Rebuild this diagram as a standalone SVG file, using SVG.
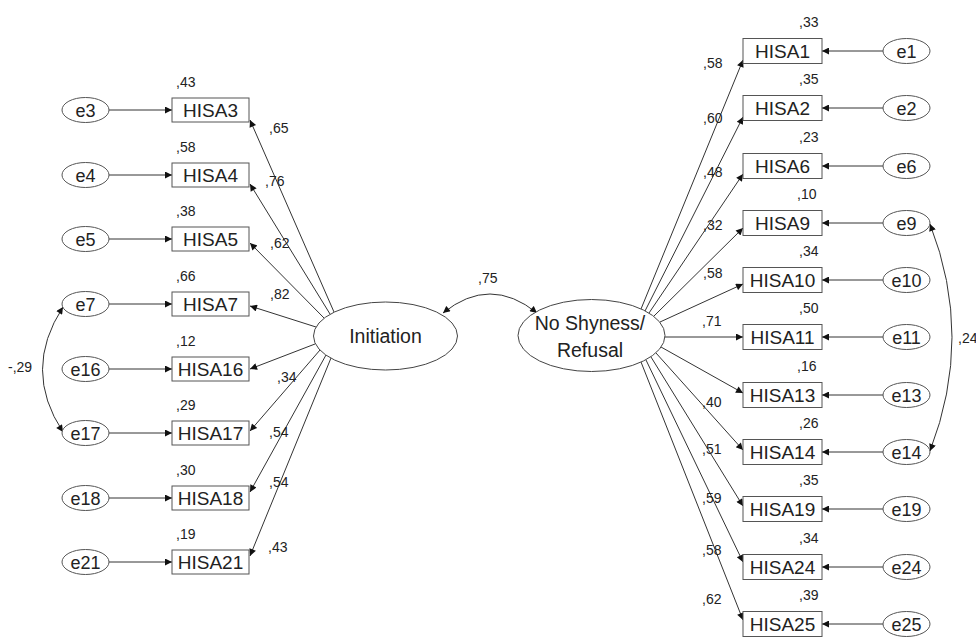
<svg xmlns="http://www.w3.org/2000/svg" width="976" height="637" viewBox="0 0 976 637">
<defs>
<marker id="ah" viewBox="0 0 10 10" refX="10" refY="5" markerWidth="9" markerHeight="7" markerUnits="userSpaceOnUse" orient="auto-start-reverse"><path d="M0,0 L10,5 L0,10 z" fill="#111"/></marker>
</defs>
<style>
.bg{fill:#fff}
rect.box{fill:#fff;stroke:#555;stroke-width:1}
ellipse.err{fill:#fff;stroke:#555;stroke-width:1}
ellipse.lat{fill:#fff;stroke:#444;stroke-width:1}
text{font-family:"Liberation Sans",Arial,sans-serif;fill:#222}
.bt{font-size:19px;text-anchor:middle}
.et{font-size:18px;text-anchor:middle}
.lt{font-size:19.5px;text-anchor:middle}
.n{font-size:14px}
#connectors line,#connectors path{stroke:#333;stroke-width:1;fill:none}
.a{marker-end:url(#ah)}
.d{marker-start:url(#ah);marker-end:url(#ah)}
</style>
<rect class="bg" x="0" y="0" width="976" height="637"/>

<g id="connectors">
<!-- error to indicator, left -->
<line class="a" x1="109" y1="110" x2="172" y2="110"/>
<line class="a" x1="109" y1="175" x2="172" y2="175"/>
<line class="a" x1="109" y1="239" x2="172" y2="239"/>
<line class="a" x1="109" y1="304" x2="172" y2="304"/>
<line class="a" x1="109" y1="369" x2="172" y2="369"/>
<line class="a" x1="109" y1="433" x2="172" y2="433"/>
<line class="a" x1="109" y1="498" x2="172" y2="498"/>
<line class="a" x1="109" y1="562" x2="172" y2="562"/>
<!-- loadings left -->
<line class="a" x1="334" y1="312" x2="250" y2="120"/>
<line class="a" x1="330" y1="314" x2="250" y2="184"/>
<line class="a" x1="324" y1="318" x2="250" y2="243"/>
<line class="a" x1="316" y1="327" x2="250" y2="306"/>
<line class="a" x1="315" y1="344" x2="250" y2="369"/>
<line class="a" x1="320" y1="350" x2="250" y2="431"/>
<line class="a" x1="326" y1="355" x2="250" y2="492"/>
<line class="a" x1="331" y1="358" x2="250" y2="556"/>
<!-- loadings right -->
<line class="a" x1="641" y1="309" x2="743" y2="60"/>
<line class="a" x1="645" y1="311" x2="743" y2="117"/>
<line class="a" x1="649" y1="313" x2="743" y2="174"/>
<line class="a" x1="654" y1="316" x2="743" y2="228"/>
<line class="a" x1="660" y1="322" x2="743" y2="284"/>
<line class="a" x1="665" y1="337" x2="743" y2="337"/>
<line class="a" x1="661" y1="347" x2="743" y2="393"/>
<line class="a" x1="656" y1="353" x2="743" y2="450"/>
<line class="a" x1="651" y1="357" x2="743" y2="506"/>
<line class="a" x1="646" y1="360" x2="743" y2="562"/>
<line class="a" x1="641" y1="362" x2="743" y2="620"/>
<!-- error to indicator, right -->
<line class="a" x1="883" y1="51" x2="822" y2="51"/>
<line class="a" x1="883" y1="108" x2="822" y2="108"/>
<line class="a" x1="883" y1="166" x2="822" y2="166"/>
<line class="a" x1="883" y1="223" x2="822" y2="223"/>
<line class="a" x1="883" y1="280" x2="822" y2="280"/>
<line class="a" x1="883" y1="337" x2="822" y2="337"/>
<line class="a" x1="883" y1="395" x2="822" y2="395"/>
<line class="a" x1="883" y1="452" x2="822" y2="452"/>
<line class="a" x1="883" y1="509" x2="822" y2="509"/>
<line class="a" x1="883" y1="567" x2="822" y2="567"/>
<line class="a" x1="883" y1="624" x2="822" y2="624"/>
<!-- covariances -->
<path class="d" d="M443,313 Q490,275 537,313"/>
<path class="d" d="M63,307 Q22,370 63,432"/>
<path class="d" d="M930,224 Q974,337 930,451"/>
<!-- coefficient labels -->
<text class="n" x="478" y="283">,75</text>
<text class="n" x="8" y="372">-,29</text>
<text class="n" x="958" y="343">,24</text>
<text class="n" x="269" y="133">,65</text>
<text class="n" x="265" y="186">,76</text>
<text class="n" x="270" y="248">,62</text>
<text class="n" x="270" y="299">,82</text>
<text class="n" x="277" y="382">,34</text>
<text class="n" x="269" y="437">,54</text>
<text class="n" x="269" y="487">,54</text>
<text class="n" x="268" y="552">,43</text>
<text class="n" x="703" y="68">,58</text>
<text class="n" x="703" y="123">,60</text>
<text class="n" x="703" y="177">,48</text>
<text class="n" x="703" y="230">,32</text>
<text class="n" x="703" y="278">,58</text>
<text class="n" x="702" y="326">,71</text>
<text class="n" x="702" y="407">,40</text>
<text class="n" x="702" y="454">,51</text>
<text class="n" x="702" y="503">,59</text>
<text class="n" x="702" y="555">,58</text>
<text class="n" x="702" y="604">,62</text>
</g>

<g id="Initiation"><ellipse class="lat" cx="385.5" cy="336" rx="72" ry="34"/><text class="lt" x="385.5" y="343">Initiation</text></g>
<g id="NoShyness"><ellipse class="lat" cx="591.5" cy="335.5" rx="73.5" ry="36"/><text class="lt" x="590" y="330">No Shyness/</text><text class="lt" x="590" y="357">Refusal</text></g>

<g id="HISA3"><rect class="box" x="172" y="98" width="77" height="24"/><text class="bt" x="210.5" y="117">HISA3</text><text class="n" x="176" y="87">,43</text></g>
<g id="HISA4"><rect class="box" x="172" y="163" width="77" height="24"/><text class="bt" x="210.5" y="182">HISA4</text><text class="n" x="176" y="152">,58</text></g>
<g id="HISA5"><rect class="box" x="172" y="227" width="77" height="24"/><text class="bt" x="210.5" y="246">HISA5</text><text class="n" x="176" y="216">,38</text></g>
<g id="HISA7"><rect class="box" x="172" y="292" width="77" height="24"/><text class="bt" x="210.5" y="311">HISA7</text><text class="n" x="176" y="281">,66</text></g>
<g id="HISA16"><rect class="box" x="172" y="357" width="77" height="24"/><text class="bt" x="210.5" y="376">HISA16</text><text class="n" x="176" y="346">,12</text></g>
<g id="HISA17"><rect class="box" x="172" y="421" width="77" height="24"/><text class="bt" x="210.5" y="440">HISA17</text><text class="n" x="176" y="410">,29</text></g>
<g id="HISA18"><rect class="box" x="172" y="486" width="77" height="24"/><text class="bt" x="210.5" y="505">HISA18</text><text class="n" x="176" y="475">,30</text></g>
<g id="HISA21"><rect class="box" x="172" y="550" width="77" height="24"/><text class="bt" x="210.5" y="569">HISA21</text><text class="n" x="176" y="539">,19</text></g>

<g id="e3"><ellipse class="err" cx="85.5" cy="110" rx="23.5" ry="12.5"/><text class="et" x="85.5" y="116.5">e3</text></g>
<g id="e4"><ellipse class="err" cx="85.5" cy="175" rx="23.5" ry="12.5"/><text class="et" x="85.5" y="181.5">e4</text></g>
<g id="e5"><ellipse class="err" cx="85.5" cy="239" rx="23.5" ry="12.5"/><text class="et" x="85.5" y="245.5">e5</text></g>
<g id="e7"><ellipse class="err" cx="85.5" cy="304" rx="23.5" ry="12.5"/><text class="et" x="85.5" y="310.5">e7</text></g>
<g id="e16"><ellipse class="err" cx="85.5" cy="369" rx="23.5" ry="12.5"/><text class="et" x="85.5" y="375.5">e16</text></g>
<g id="e17"><ellipse class="err" cx="85.5" cy="433" rx="23.5" ry="12.5"/><text class="et" x="85.5" y="439.5">e17</text></g>
<g id="e18"><ellipse class="err" cx="85.5" cy="498" rx="23.5" ry="12.5"/><text class="et" x="85.5" y="504.5">e18</text></g>
<g id="e21"><ellipse class="err" cx="85.5" cy="562" rx="23.5" ry="12.5"/><text class="et" x="85.5" y="568.5">e21</text></g>

<g id="HISA1"><rect class="box" x="743" y="38.5" width="79" height="25"/><text class="bt" x="782.5" y="58">HISA1</text><text class="n" x="799" y="27">,33</text></g>
<g id="HISA2"><rect class="box" x="743" y="95.5" width="79" height="25"/><text class="bt" x="782.5" y="115">HISA2</text><text class="n" x="799" y="84">,35</text></g>
<g id="HISA6"><rect class="box" x="743" y="153.5" width="79" height="25"/><text class="bt" x="782.5" y="173">HISA6</text><text class="n" x="799" y="142">,23</text></g>
<g id="HISA9"><rect class="box" x="743" y="210.5" width="79" height="25"/><text class="bt" x="782.5" y="230">HISA9</text><text class="n" x="797" y="199">,10</text></g>
<g id="HISA10"><rect class="box" x="743" y="267.5" width="79" height="25"/><text class="bt" x="782.5" y="287">HISA10</text><text class="n" x="799" y="256">,34</text></g>
<g id="HISA11"><rect class="box" x="743" y="324.5" width="79" height="25"/><text class="bt" x="782.5" y="344">HISA11</text><text class="n" x="799" y="313">,50</text></g>
<g id="HISA13"><rect class="box" x="743" y="382.5" width="79" height="25"/><text class="bt" x="782.5" y="402">HISA13</text><text class="n" x="797" y="371">,16</text></g>
<g id="HISA14"><rect class="box" x="743" y="439.5" width="79" height="25"/><text class="bt" x="782.5" y="459">HISA14</text><text class="n" x="799" y="428">,26</text></g>
<g id="HISA19"><rect class="box" x="743" y="496.5" width="79" height="25"/><text class="bt" x="782.5" y="516">HISA19</text><text class="n" x="799" y="485">,35</text></g>
<g id="HISA24"><rect class="box" x="743" y="554.5" width="79" height="25"/><text class="bt" x="782.5" y="574">HISA24</text><text class="n" x="799" y="543">,34</text></g>
<g id="HISA25"><rect class="box" x="743" y="611.5" width="79" height="25"/><text class="bt" x="782.5" y="631">HISA25</text><text class="n" x="799" y="600">,39</text></g>

<g id="e1"><ellipse class="err" cx="906.5" cy="51" rx="23.5" ry="12.5"/><text class="et" x="906.5" y="57.5">e1</text></g>
<g id="e2"><ellipse class="err" cx="906.5" cy="108" rx="23.5" ry="12.5"/><text class="et" x="906.5" y="114.5">e2</text></g>
<g id="e6"><ellipse class="err" cx="906.5" cy="166" rx="23.5" ry="12.5"/><text class="et" x="906.5" y="172.5">e6</text></g>
<g id="e9"><ellipse class="err" cx="906.5" cy="223" rx="23.5" ry="12.5"/><text class="et" x="906.5" y="229.5">e9</text></g>
<g id="e10"><ellipse class="err" cx="906.5" cy="280" rx="23.5" ry="12.5"/><text class="et" x="906.5" y="286.5">e10</text></g>
<g id="e11"><ellipse class="err" cx="906.5" cy="337" rx="23.5" ry="12.5"/><text class="et" x="906.5" y="343.5">e11</text></g>
<g id="e13"><ellipse class="err" cx="906.5" cy="395" rx="23.5" ry="12.5"/><text class="et" x="906.5" y="401.5">e13</text></g>
<g id="e14"><ellipse class="err" cx="906.5" cy="452" rx="23.5" ry="12.5"/><text class="et" x="906.5" y="458.5">e14</text></g>
<g id="e19"><ellipse class="err" cx="906.5" cy="509" rx="23.5" ry="12.5"/><text class="et" x="906.5" y="515.5">e19</text></g>
<g id="e24"><ellipse class="err" cx="906.5" cy="567" rx="23.5" ry="12.5"/><text class="et" x="906.5" y="573.5">e24</text></g>
<g id="e25"><ellipse class="err" cx="906.5" cy="624" rx="23.5" ry="12.5"/><text class="et" x="906.5" y="630.5">e25</text></g>
</svg>
